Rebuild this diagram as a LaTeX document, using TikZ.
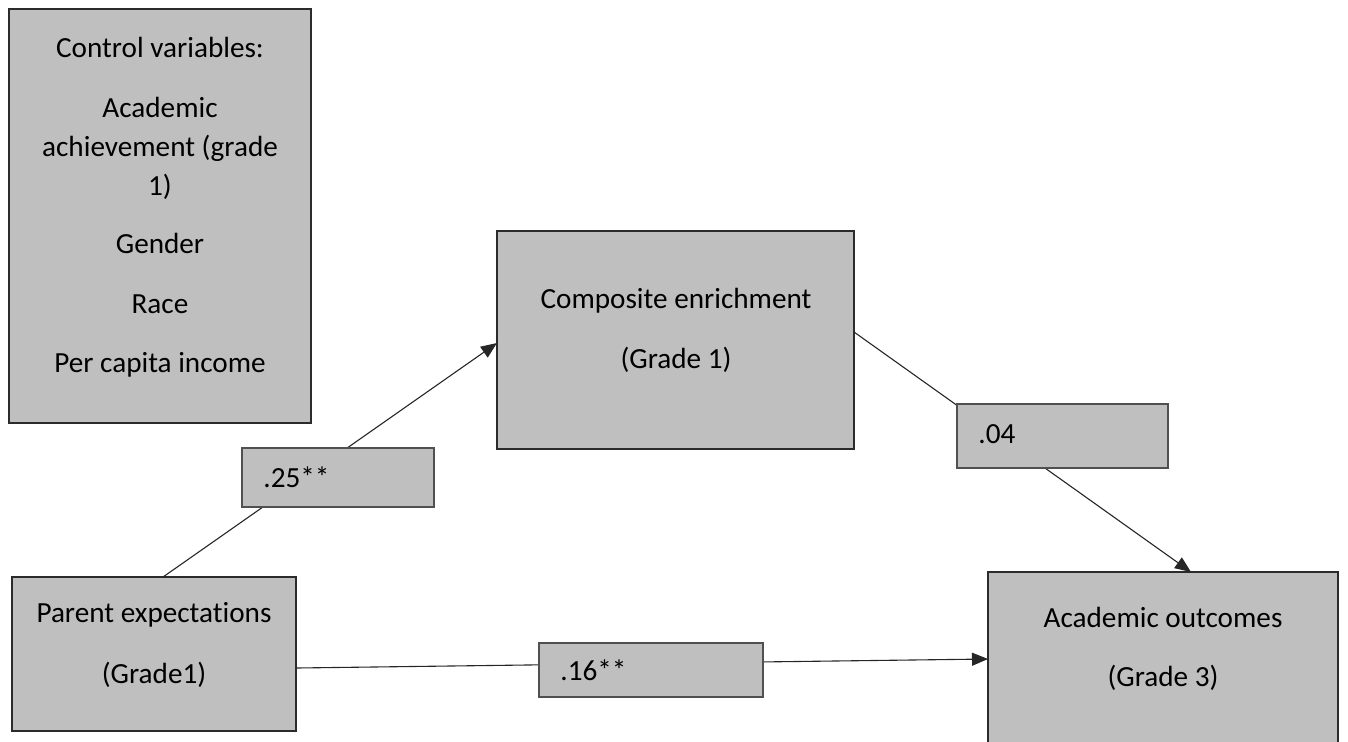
\documentclass[tikz,border=0pt]{standalone}
\usepackage{fontspec}
\setmainfont[Ligatures=NoCommon]{Carlito}
\usetikzlibrary{arrows.meta}
\definecolor{boxfill}{HTML}{BFBFBF}
\definecolor{boxline}{HTML}{2B2B2B}
\definecolor{labline}{HTML}{505050}
\definecolor{wire}{HTML}{262626}
\begin{document}
\begin{tikzpicture}[x=0.5pt,y=-0.5pt,
  font=\fontsize{14.6}{19.5}\selectfont,
  mainbox/.style={draw=boxline,fill=boxfill,line width=1.25pt,inner sep=0pt,outer sep=0pt},
  labbox/.style={draw=labline,fill=boxfill,line width=0.6pt,inner sep=0pt,outer sep=0pt},
  txt/.style={anchor=base,inner sep=0pt,text=black},
  labtxt/.style={anchor=base west,inner sep=0pt,text=black},
  wireline/.style={draw=wire,line width=0.55pt},
  arrowline/.style={wireline,-{Triangle[length=8pt,width=6.5pt]}}]
\useasboundingbox (0,0) rectangle (1348,741);
\clip (0,0) rectangle (1348,741);

% main boxes
\node[mainbox,minimum width=151pt,minimum height=207pt] (ctrl) at (160,216) {};
\node[mainbox,minimum width=178.5pt,minimum height=109pt] (comp) at (675.5,340) {};
\node[mainbox,minimum width=142pt,minimum height=77pt] (parent) at (154,654) {};
\node[mainbox,minimum width=175pt,minimum height=87pt] (acad) at (1163,659) {};

% box texts
\node[txt] (ctrl-t1) at (160,57) {Control variables:};
\node[txt] (ctrl-t2) at (160,117) {Academic};
\node[txt] (ctrl-t3) at (160,156) {achievement (grade};
\node[txt] (ctrl-t4) at (160,195) {1)};
\node[txt] (ctrl-t5) at (160,253) {Gender};
\node[txt] (ctrl-t6) at (160,313) {Race};
\node[txt] (ctrl-t7) at (160,372) {Per capita income};

\node[txt] (comp-t1) at (676,308) {Composite enrichment};
\node[txt] (comp-t2) at (676,368) {(Grade 1)};

\node[txt] (parent-t1) at (154,622) {Parent expectations};
\node[txt] (parent-t2) at (154,683) {(Grade1)};

\node[txt] (acad-t1) at (1163,627) {Academic outcomes};
\node[txt] (acad-t2) at (1163,686) {(Grade 3)};

% paths
\draw[arrowline] ([xshift=4.5pt]parent.north) -- ([yshift=-1.5pt]comp.west);
\draw[arrowline] ([yshift=4pt]comp.east) -- ([xshift=14pt]acad.north);
\draw[arrowline] ([yshift=-7pt]parent.east) -- (acad.west);

% coefficient labels
\node[labbox,minimum width=96pt,minimum height=29.5pt] (c25) at (338,477.5) {};
\node[labtxt] (c25-t) at (263,487) {.25**};
\node[labbox,minimum width=105.5pt,minimum height=32pt] (c04) at (1062.5,436) {};
\node[labtxt] (c04-t) at (978,443) {.04};
\node[labbox,minimum width=112pt,minimum height=27pt] (c16) at (651,670) {};
\node[labtxt] (c16-t) at (560,680) {.16**};
\end{tikzpicture}
\end{document}
